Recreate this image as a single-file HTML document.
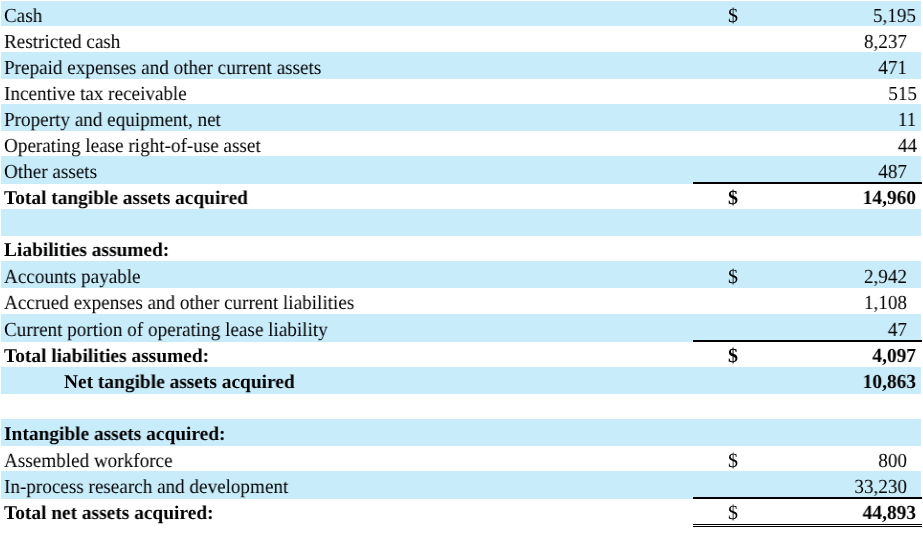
<!DOCTYPE html>
<html><head><meta charset="utf-8"><style>
html,body{margin:0;padding:0;background:#fff;}
body{width:923px;height:554px;position:relative;overflow:hidden;font-family:"Liberation Serif",serif;color:#000;text-rendering:geometricPrecision;}
.bg{position:absolute;left:1px;width:920px;background:#c9ecfb;}
.t{position:absolute;font-size:20px;line-height:20px;white-space:pre;transform:scaleX(0.957);will-change:transform;}
.l{transform-origin:0 0;}
.r{transform-origin:100% 0;text-align:right;}
.b{font-weight:bold;transform:scaleX(0.97);}
.bl{font-size:19.5px;transform:scaleX(0.994);margin-top:1px;}
.rule{position:absolute;left:693px;width:229px;background:#000;}
</style></head><body>

<div class="bg" style="top:1px;height:25px"></div>
<div class="bg" style="top:52px;height:27px"></div>
<div class="bg" style="top:104px;height:27px"></div>
<div class="bg" style="top:156px;height:27.5px"></div>
<div class="bg" style="top:209px;height:27px"></div>
<div class="bg" style="top:261px;height:27px"></div>
<div class="bg" style="top:314px;height:27.5px"></div>
<div class="bg" style="top:367px;height:27px"></div>
<div class="bg" style="top:419px;height:27px"></div>
<div class="bg" style="top:471px;height:27.5px"></div>
<div class="t l" style="left:4px;top:5.6px">Cash</div>
<div class="t l d" style="left:728px;top:5.6px">$</div>
<div class="t r" style="right:7.5px;top:5.6px">5,195</div>
<div class="t l" style="left:4px;top:31.8px">Restricted cash</div>
<div class="t r" style="right:16.3px;top:31.8px">8,237</div>
<div class="t l" style="left:4px;top:57.9px">Prepaid expenses and other current assets</div>
<div class="t r" style="right:16.3px;top:57.9px">471</div>
<div class="t l" style="left:4px;top:83.8px">Incentive tax receivable</div>
<div class="t r" style="right:6.5px;top:83.8px">515</div>
<div class="t l" style="left:4px;top:109.6px">Property and equipment, net</div>
<div class="t r" style="right:6.5px;top:109.6px">11</div>
<div class="t l" style="left:4px;top:135.9px">Operating lease right-of-use asset</div>
<div class="t r" style="right:6.5px;top:135.9px">44</div>
<div class="t l" style="left:4px;top:161.9px">Other assets</div>
<div class="t r" style="right:16.3px;top:161.9px">487</div>
<div class="t l b bl" style="left:4px;top:187.8px">Total tangible assets acquired</div>
<div class="t l d b" style="left:728px;top:187.8px">$</div>
<div class="t r b" style="right:7px;top:187.8px">14,960</div>
<div class="t l b bl" style="left:4px;top:239.9px">Liabilities assumed:</div>
<div class="t l" style="left:4px;top:267px">Accounts payable</div>
<div class="t l d" style="left:728px;top:267px">$</div>
<div class="t r" style="right:16.3px;top:267px">2,942</div>
<div class="t l" style="left:4px;top:292.8px">Accrued expenses and other current liabilities</div>
<div class="t r" style="right:16.3px;top:292.8px">1,108</div>
<div class="t l" style="left:4px;top:319.8px">Current portion of operating lease liability</div>
<div class="t r" style="right:16.3px;top:319.8px">47</div>
<div class="t l b bl" style="left:4px;top:346.2px">Total liabilities assumed:</div>
<div class="t l d b" style="left:728px;top:346.2px">$</div>
<div class="t r b" style="right:7px;top:346.2px">4,097</div>
<div class="t l b bl" style="left:64px;top:371.7px">Net tangible assets acquired</div>
<div class="t r b" style="right:7px;top:371.7px">10,863</div>
<div class="t l b bl" style="left:4px;top:423.7px">Intangible assets acquired:</div>
<div class="t l" style="left:4px;top:450.8px">Assembled workforce</div>
<div class="t l d" style="left:728px;top:450.8px">$</div>
<div class="t r" style="right:16.3px;top:450.8px">800</div>
<div class="t l" style="left:4px;top:476.8px">In-process research and development</div>
<div class="t r" style="right:16.3px;top:476.8px">33,230</div>
<div class="t l b bl" style="left:4px;top:502.7px">Total net assets acquired:</div>
<div class="t l d" style="left:728px;top:502.7px">$</div>
<div class="t r b" style="right:7px;top:502.7px">44,893</div>
<div class="rule" style="top:182px;height:2px"></div>
<div class="rule" style="top:340px;height:2px"></div>
<div class="rule" style="top:497px;height:2px"></div>
<div class="rule" style="top:524px;height:1px"></div>
<div class="rule" style="top:526px;height:1px"></div>
</body></html>
